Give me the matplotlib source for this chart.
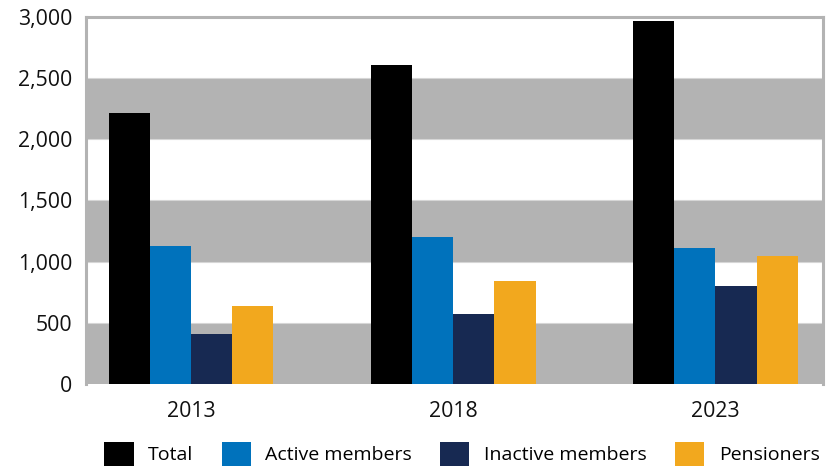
"""Grouped bars: membership by year, on alternating grey bands."""
import numpy as np
import matplotlib
matplotlib.use("Agg")
import matplotlib.pyplot as plt
from matplotlib.patches import Patch

years = ["2013", "2018", "2023"]
series = ["Total", "Active members", "Inactive members", "Pensioners"]
total = [2215, 2608, 2967]
active = [1128, 1202, 1112]
inactive = [409, 572, 801]
pensioners = [638, 842, 1049]
colors = ["#000000", "#0072bc", "#172952", "#f2a81e"]

plt.rcParams["font.family"] = ["Open Sans", "DejaVu Sans"]

fig = plt.figure(figsize=(8.37, 4.68), dpi=100, facecolor="white")
ax = fig.add_axes([0.1027, 0.1795, 0.8806, 0.7842])

# grey bands every other 500
for lo in range(0, 3000, 1000):
    ax.axhspan(lo, lo + 500, color="#b3b3b3", lw=0, zorder=0)
for y in range(500, 3000, 500):
    ax.axhline(y, color="#d6d6d6", lw=0.8, zorder=0.5)

x = np.arange(len(years))
w = 0.157
for i, (vals, c) in enumerate(zip([total, active, inactive, pensioners], colors)):
    ax.bar(x + (i - 1.5) * w, vals, width=w, color=c, lw=0, zorder=2)

ax.set_xlim(-0.4, 2.41)
ax.set_ylim(0, 3000)
ax.set_yticks(range(0, 3001, 500))
ax.set_yticklabels([f"{v:,}" for v in range(0, 3001, 500)])
ax.set_xticks(x)
ax.set_xticklabels(years)
ax.tick_params(axis="both", length=0, labelsize=15.3, colors="#111111")
ax.tick_params(axis="y", pad=10)
ax.tick_params(axis="x", pad=12)
for s in ax.spines.values():
    s.set_color("#b3b3b3")
    s.set_linewidth(2.2)
ax.spines["bottom"].set_visible(False)

handles = [Patch(facecolor=c, edgecolor="none") for c in colors]
fig.legend(handles, series, loc="center", bbox_to_anchor=(0.552, 0.03), ncol=4,
           frameon=False, fontsize=14, handlelength=1.5, handleheight=1.5,
           handletextpad=0.75, columnspacing=1.45, borderaxespad=0, borderpad=0)

fig.savefig("out.png", dpi=100, facecolor="white")
